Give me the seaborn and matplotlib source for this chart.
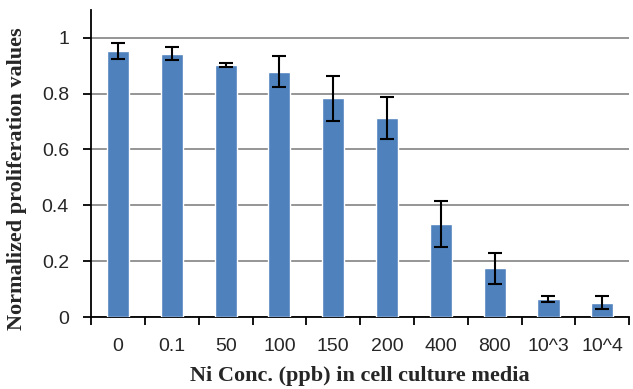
import numpy as np
import matplotlib
matplotlib.use("Agg")
import matplotlib.pyplot as plt
import seaborn as sns

# datos
concentraciones = ["0", "0.1", "50", "100", "150", "200", "400", "800", "10^3", "10^4"]
proliferacion = [0.953, 0.943, 0.903, 0.878, 0.783, 0.712, 0.333, 0.175, 0.066, 0.052]
errores = [0.028, 0.024, 0.008, 0.055, 0.080, 0.075, 0.083, 0.055, 0.011, 0.025]

sns.set_style("white")
plt.rcParams["font.family"] = ["Liberation Sans", "DejaVu Sans"]

fig = plt.figure(figsize=(6.33, 3.89), dpi=100)
ax = fig.add_axes([0.144, 0.185, 0.85, 0.79])

sns.barplot(x=concentraciones, y=proliferacion, color="#4F81BD", width=0.41,
            saturation=1, ax=ax, zorder=3)
ax.errorbar(np.arange(len(concentraciones)), proliferacion, yerr=errores,
            fmt="none", ecolor="black", elinewidth=1.5, capsize=5, capthick=1.5, zorder=4)

#Ejes y rejilla
ax.set_xlim(-0.5, len(concentraciones) - 0.5)
ax.set_ylim(0, 1.1)
ax.set_yticks([0, 0.2, 0.4, 0.6, 0.8, 1.0])
ax.set_yticklabels(["0", "0.2", "0.4", "0.6", "0.8", "1"], fontsize=14)
ax.yaxis.grid(True, color="#8c8c8c", linewidth=1.3, zorder=0)
ax.set_axisbelow(True)

ax.set_xticks(np.arange(-0.5, len(concentraciones), 1))
ax.set_xticklabels([])
ax.set_xticks(np.arange(len(concentraciones)), minor=True)
ax.set_xticklabels(concentraciones, minor=True)
ax.tick_params(axis="x", which="minor", length=0, pad=15, labelsize=14)
ax.tick_params(axis="x", which="major", direction="out", length=6, width=1.3, color="black", bottom=True)
ax.tick_params(axis="y", direction="out", length=6, width=1.3, color="black", left=True, pad=10)

for lado in ["top", "right"]:
    ax.spines[lado].set_visible(False)
for lado in ["left", "bottom"]:
    ax.spines[lado].set_color("black")
    ax.spines[lado].set_linewidth(1.3)

ax.set_xlabel("Ni Conc. (ppb) in cell culture media", family="Liberation Serif",
              fontweight="bold", fontsize=16)
ax.set_ylabel("Normalized proliferation values", family="Liberation Serif",
              fontweight="bold", fontsize=16)
ax.xaxis.set_label_coords(0.5, -0.158)
ax.yaxis.set_label_coords(-0.12, 0.45)

plt.savefig("out.png", dpi=100)
